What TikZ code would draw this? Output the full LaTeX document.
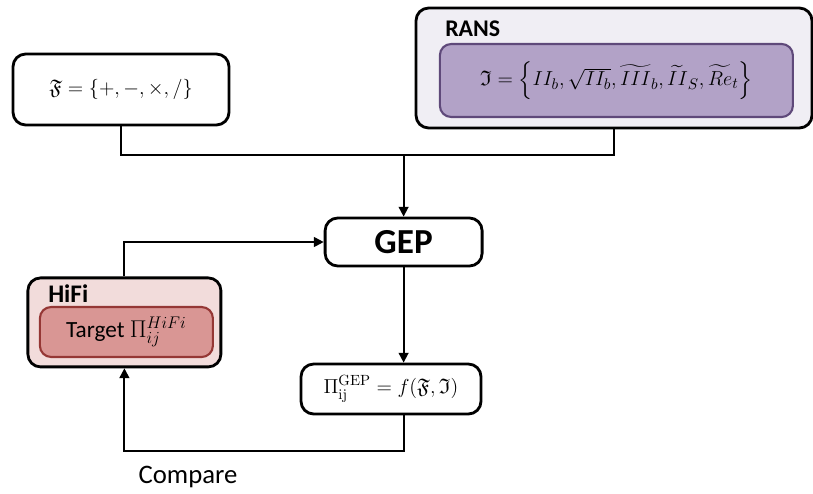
\documentclass[tikz,border=0pt]{standalone}
\usepackage{amsmath,amssymb}
\usepackage{fontspec}
\newfontfamily\calibri{Carlito}
\usetikzlibrary{arrows.meta,positioning}
\definecolor{ransbg}{HTML}{F0EEF4}
\definecolor{ransfill}{HTML}{B2A2C7}
\definecolor{ransline}{HTML}{5F497A}
\definecolor{hifibg}{HTML}{F2DCDB}
\definecolor{hififill}{HTML}{D99694}
\definecolor{hifiline}{HTML}{953735}
\tikzset{
  box/.style={draw,line width=2pt,rounded corners=9pt,fill=white,align=center},
  inner/.style={rounded corners=8pt,line width=1.5pt},
  tag/.style={font=\calibri\bfseries\fontsize{17}{20}\selectfont,anchor=base west,inner sep=0pt},
  wire/.style={line width=1.3pt},
  mathtxt/.style={font=\fontsize{15}{18}\selectfont}
}
\tikzstyle{arrow} = [wire,-{Triangle[length=7pt,width=7pt]}]

\begin{document}
\begin{tikzpicture}
  \useasboundingbox (0,0) rectangle (20.325,-12.325);
  % function set
  \node[box,mathtxt,minimum width=5.4cm,minimum height=1.775cm] (fset) at (3.025,-2.2375)
    {$\mathfrak{F}=\{+,-,\times,/\}$};
  % RANS features
  \node[box,fill=ransbg,minimum width=9.9cm,minimum height=3cm] (rans) at (15.35,-1.7) {};
  \node[box,inner,mathtxt,fill=ransfill,draw=ransline,minimum width=8.825cm,minimum height=1.825cm] (tset) at (15.41,-2.0125)
    {$\mathfrak{I}=\left\{II_b,\sqrt{II_b},\widetilde{III}_b,\widetilde{II}_S,\widetilde{Re}_t\right\}$};
  \node[tag] (ranstag) at (11.125,-0.9) {RANS};
  % GEP
  \node[box,font=\calibri\bfseries\fontsize{25}{28}\selectfont,minimum width=3.925cm,minimum height=1.2cm] (gep) at (10.09,-6.05) {GEP};
  % high fidelity target
  \node[box,fill=hifibg,minimum width=4.825cm,minimum height=2.225cm] (hifi) at (3.11,-8.06) {};
  \node[box,inner,fill=hififill,draw=hifiline,font=\calibri\fontsize{16.5}{19}\selectfont,minimum width=4.325cm,minimum height=1.25cm] (target) at (3.16,-8.3)
    {Target $\Pi_{ij}^{HiFi}$};
  \node[tag,font=\calibri\bfseries\fontsize{18}{20}\selectfont] (hifitag) at (1.2,-7.55) {HiFi};
  % model
  \node[box,mathtxt,minimum width=4.5cm,minimum height=1.25cm] (model) at (9.775,-9.725)
    {$\Pi_{\mathrm{ij}}^{\mathrm{GEP}}=f(\mathfrak{F},\mathfrak{I})$};

  % connections
  \coordinate (bus) at (10.09,-3.875);
  \draw[wire] (fset.south) |- (bus) -| (rans.south);
  \draw[arrow] (bus) -- (gep.north);
  \draw[arrow] (gep.south) -- (gep.south |- model.north);
  \draw[arrow] (gep.south |- model.south) -- ++(0,-0.9) -| (hifi.south);
  \draw[arrow] (hifi.north) |- (gep.west);
  \node[font=\calibri\fontsize{19}{22}\selectfont] (cmp) at (4.7,-11.925) {Compare};
\end{tikzpicture}
\end{document}
